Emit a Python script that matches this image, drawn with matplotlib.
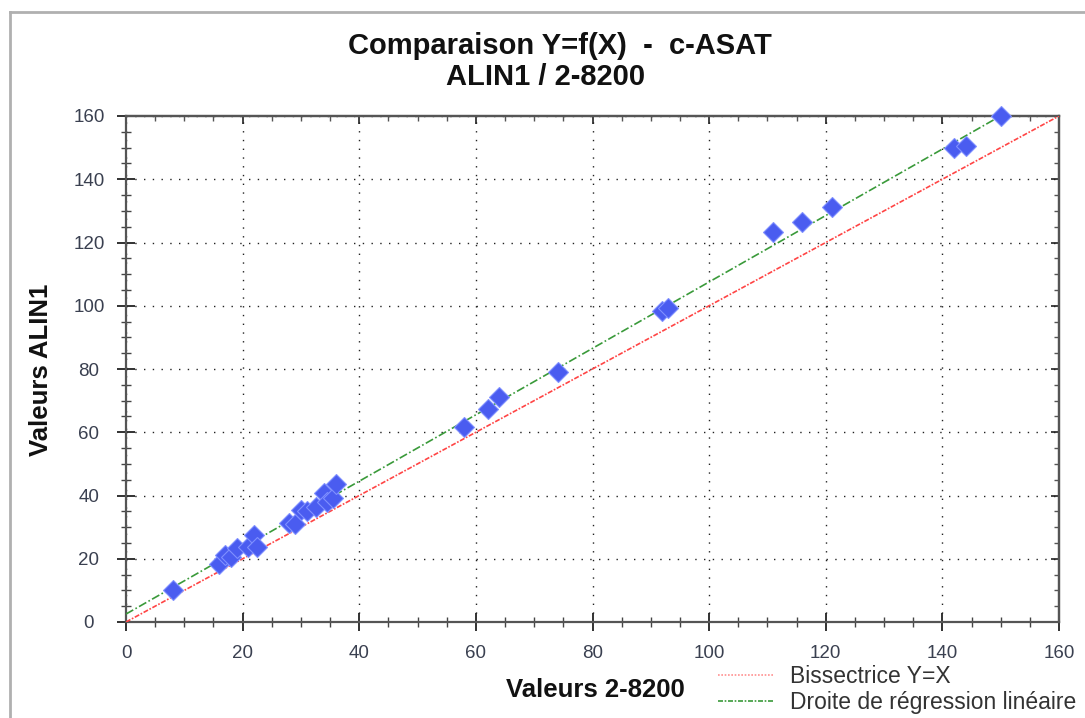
import numpy as np
import matplotlib
matplotlib.use("Agg")
import matplotlib.pyplot as plt
from matplotlib.ticker import MultipleLocator, NullFormatter
from matplotlib.lines import Line2D

# ---- data ----
x_vals = [8, 16, 17, 18, 19, 21, 22, 22.5, 28, 29, 30, 31, 32.5, 34, 34.5, 35.5, 36,
          58, 62, 64, 74, 92, 93, 111, 116, 121, 142, 144, 150]
y_vals = [10, 18.3, 21.2, 20.5, 23.3, 23.8, 27.5, 23.8, 31.2, 31, 35.4, 35.2, 36.5,
          40.7, 38, 39.1, 43.5, 61.6, 67.3, 71.2, 79.2, 98.4, 99.2, 123.4, 126.4,
          131.3, 149.8, 150.5, 160]
axis_range = [0, 160]
title_line1 = "Comparaison Y=f(X)  -  c-ASAT"
title_line2 = "ALIN1 / 2-8200"
xlabel = "Valeurs 2-8200"
ylabel = "Valeurs ALIN1"
legend_labels = ["Bissectrice Y=X", "Droite de régression linéaire"]

plt.rcParams['font.family'] = ['Liberation Sans', 'DejaVu Sans']

W, H = 1085, 718
fig = plt.figure(figsize=(W / 100, H / 100), dpi=100)
ax = fig.add_axes([126 / W, 1 - 622 / H, (1059 - 126) / W, (622 - 116) / H])

# figure frame (gray)
fig.add_artist(Line2D([9.5 / W, 9.5 / W], [0, 1 - 12 / H], transform=fig.transFigure,
                      color='#b0b0b0', lw=2))
fig.add_artist(Line2D([9.5 / W, 1.0], [1 - 12 / H, 1 - 12 / H], transform=fig.transFigure,
                      color='#b0b0b0', lw=2))

xs = np.array(x_vals, dtype=float)
ys = np.array(y_vals, dtype=float)
slope, intercept = np.polyfit(xs, ys, 1)
line_x = np.linspace(axis_range[0], axis_range[1], 200)

red_ls = (0, (3, 1, 1, 1))
green_ls = (0, (5, 1.5, 1, 1.5))
ax.plot(line_x, line_x, color='#ff4545', lw=1.2, ls=red_ls, zorder=3, clip_on=True)
ax.plot(line_x, slope * line_x + intercept, color='#3a9a3a', lw=1.2, ls=green_ls,
        zorder=3, clip_on=True)
ax.plot(xs, ys, ls='none', marker='D', markersize=10, markerfacecolor='#4a5cf0',
        markeredgecolor='#8090ff', markeredgewidth=0.8, zorder=4, clip_on=False)

ax.set_xlim(axis_range)
ax.set_ylim(axis_range)
for a in (ax.xaxis, ax.yaxis):
    a.set_major_locator(MultipleLocator(20))
    a.set_minor_locator(MultipleLocator(5))

ax.grid(True, which='major', color='#222222', lw=1.0, ls=(0, (1, 5.3)))
ax.set_axisbelow(True)

for sp in ax.spines.values():
    sp.set_color('#555555')
    sp.set_linewidth(1.6)

tick_color = '#3a4050'
ax.tick_params(which='major', direction='inout', length=12.5, width=1.3, color='#222222',
               top=False, right=False, labelsize=13.5, labelcolor=tick_color)
ax.tick_params(which='minor', direction='inout', length=7, width=1.0, color='#444444',
               top=False, right=False)
ax.tick_params(axis='x', which='major', pad=10)
ax.tick_params(axis='y', which='major', pad=20.5)
for lab in ax.get_yticklabels():
    lab.set_horizontalalignment('center')

secx = ax.secondary_xaxis('top')
secx.xaxis.set_major_locator(MultipleLocator(20))
secx.xaxis.set_minor_locator(MultipleLocator(5))
secx.xaxis.set_major_formatter(NullFormatter())
secx.tick_params(which='major', direction='in', length=6, width=1.2, color='#222222')
secx.tick_params(which='minor', direction='in', length=3.5, width=1.0, color='#555555')
secx.spines['top'].set_color('#555555')
secx.spines['top'].set_linewidth(1.6)

secy = ax.secondary_yaxis('right')
secy.yaxis.set_major_locator(MultipleLocator(20))
secy.yaxis.set_minor_locator(MultipleLocator(5))
secy.yaxis.set_major_formatter(NullFormatter())
secy.tick_params(which='major', direction='in', length=6, width=1.2, color='#222222')
secy.tick_params(which='minor', direction='in', length=3.5, width=1.0, color='#555555')
secy.spines['right'].set_color('#555555')
secy.spines['right'].set_linewidth(1.6)

# titles
fig.text(560 / W, 1 - 46 / H, title_line1, ha='center', va='center', fontsize=21,
         fontweight='bold', color='#111111')
fig.text(546 / W, 1 - 77 / H, title_line2, ha='center', va='center', fontsize=21,
         fontweight='bold', color='#111111')
fig.text(595 / W, 1 - 690 / H, xlabel, ha='center', va='center', fontsize=18.5,
         fontweight='bold', color='#111111')
fig.text(41 / W, 1 - 370 / H, ylabel, ha='center', va='center', fontsize=18.5,
         fontweight='bold', color='#111111', rotation=90)

handles = [Line2D([], [], color='#ff9090', lw=1.2, ls=(0, (1, 1))),
           Line2D([], [], color='#3a9a3a', lw=1.2, ls=(0, (3, 1, 1, 1)))]
fig.legend(handles, legend_labels, loc='upper left', bbox_to_anchor=(718 / W, 1 - 665 / H),
           frameon=False, fontsize=16.5, handlelength=2.4, handletextpad=0.75,
           labelspacing=0.15, borderpad=0, borderaxespad=0, labelcolor='#333333')

fig.savefig('out.png', dpi=100)
